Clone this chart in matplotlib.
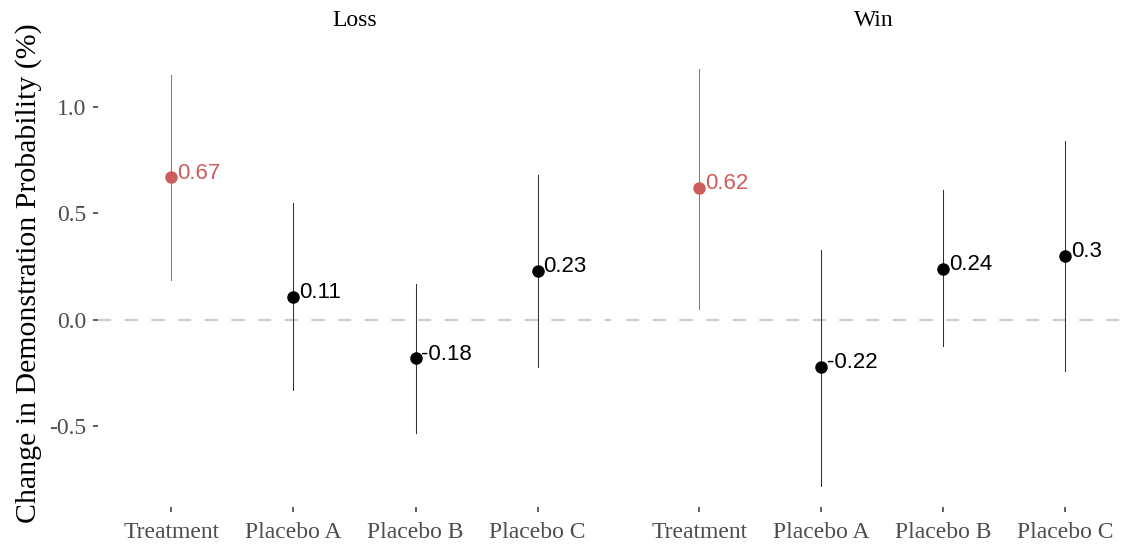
import matplotlib
matplotlib.use("Agg")
import matplotlib.pyplot as plt

panels = ["Loss", "Win"]
categories = ["Treatment", "Placebo A", "Placebo B", "Placebo C"]
estimates = {
    "Loss": [0.67, 0.11, -0.18, 0.23],
    "Win": [0.62, -0.22, 0.24, 0.30],
}
ci_low = {
    "Loss": [0.19, -0.33, -0.53, -0.22],
    "Win": [0.05, -0.78, -0.12, -0.24],
}
ci_high = {
    "Loss": [1.15, 0.55, 0.17, 0.68],
    "Win": [1.18, 0.33, 0.61, 0.84],
}
label_text = {
    "Loss": ["0.67", "0.11", "-0.18", "0.23"],
    "Win": ["0.62", "-0.22", "0.24", "0.3"],
}
yticks = [-0.5, 0.0, 0.5, 1.0]

W, H = 1122, 544
fig = plt.figure(figsize=(W / 100, H / 100), dpi=100)

serif = "Liberation Serif"
sans = "Liberation Sans"
red = "#CD5C5C"

boxes = [(98, 611, (0.4, 4.6)), (626, 1122, (0.4, 0.4 + (1122 - 626) / 122.0))]
top_px, bot_px = 48, 507
ylim = (-0.878, 1.277)

for i, (panel, (l, r, xl)) in enumerate(zip(panels, boxes)):
    ax = fig.add_axes([l / W, 1 - bot_px / H, (r - l) / W, (bot_px - top_px) / H])
    ax.set_xlim(*xl)
    ax.set_ylim(*ylim)
    for s in ax.spines.values():
        s.set_visible(False)
    ax.axhline(0, color="#CCCCCC", lw=1.6, ls=(0, (6, 6)), zorder=1)
    xs = list(range(1, len(categories) + 1))
    for j, x in enumerate(xs):
        c = red if categories[j] == "Treatment" else "black"
        lc = red if categories[j] == "Treatment" else "#333333"
        ax.plot([x, x], [ci_low[panel][j], ci_high[panel][j]], color=lc, lw=0.75, zorder=2)
        ax.plot([x], [estimates[panel][j]], marker="o", ms=8, color=c, zorder=3, ls="none")
        ax.annotate(label_text[panel][j], (x, estimates[panel][j]), xytext=(4, -1),
                    textcoords="offset points", ha="left", va="baseline",
                    fontsize=16, family=sans, color=c, zorder=4)
    ax.set_xticks(xs)
    ax.set_xticklabels(categories, family=serif, fontsize=17, color="#4D4D4D")
    ax.tick_params(axis="x", length=3.5, width=1.1, color="#333333", pad=7)
    if i == 0:
        ax.set_yticks(yticks)
        ax.set_yticklabels([f"{v:.1f}" for v in yticks], family=serif, fontsize=17, color="#4D4D4D")
        ax.tick_params(axis="y", length=3.5, width=1.1, color="#333333", pad=5)
        ax.set_ylabel("Change in Demonstration Probability (%)", family=serif, fontsize=21.5,
                      labelpad=6)
        ax.yaxis.set_label_coords(-0.11, 0.51)
    else:
        ax.set_yticks([])
    ax.set_title(panel, family=serif, fontsize=17, color="black", pad=16)

fig.savefig("out.png", dpi=100)
